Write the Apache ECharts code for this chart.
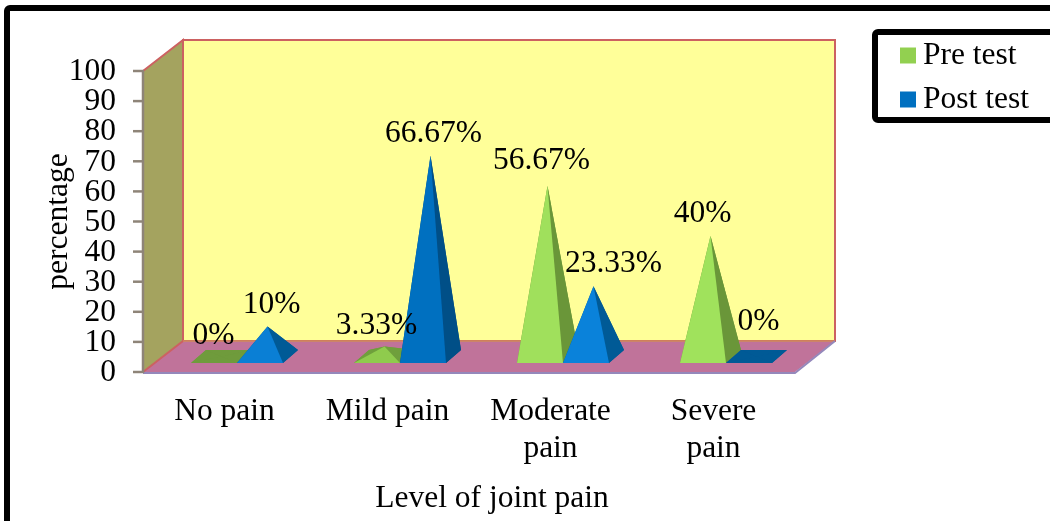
<!DOCTYPE html>
<html>
<head>
<meta charset="utf-8">
<style>html,body{margin:0;padding:0;background:#fff}#c{width:1050px;height:521px}</style>
<script src="https://cdn.jsdelivr.net/npm/echarts@6/dist/echarts.min.js"></script>
</head>
<body>
<div id="c"></div>
<script>
const categories = ['No pain', 'Mild pain', 'Moderate\npain', 'Severe\npain'];
const preTest = [0, 3.33, 56.67, 40];
const postTest = [10, 66.67, 23.33, 0];
const yTickValues = [0, 10, 20, 30, 40, 50, 60, 70, 80, 90, 100];
const seriesNames = ['Pre test', 'Post test'];
const xTitle = 'Level of joint pain';
const yTitle = 'percentage';

// layout and style only
const FONT = '"Liberation Serif","Times New Roman",serif';
const SIZE = 31.5;
const AXIS_GREY = '#8e8478';
const WALL = { dx: 40, dy: -31 };
const BASE = { lift: 9, dx: 15, dy: -13, widthRatio: 46 / 163, shift: 12.5 };
const PRE = { legend: '#92d050', faces: ['#a0e05c', '#8fcb4d', '#a0e05c', '#a0e25c'], side: ['#6f9b3c', '#6f9f3c', '#6a9639', '#6a9639'] };
const POST = { legend: '#0070c0', faces: ['#0a7fd5', '#0070c0', '#0a82da', '#0a82da'], side: ['#005a96', '#004f87', '#005a96', '#005a96'] };
const preNudge = [[-8, -21], [-8, -21], [-6, -25], [-8, -22]];
const postNudge = [[4, -22], [3, -22], [20, -23], [2, -35]];

function pyramid(style, side, nudges) {
  return function (params, api) {
    const i = api.value(0), v = api.value(1);
    const zero = api.coord([i, 0]);
    const top = api.coord([i, v]);
    const w = api.size([1, 0])[0] * BASE.widthRatio;
    const x0 = zero[0] + BASE.shift + side * w;
    const x1 = x0 + w;
    const y0 = zero[1] - BASE.lift;
    const fl = [x0, y0], fr = [x1, y0];
    const bl = [x0 + BASE.dx, y0 + BASE.dy], br = [x1 + BASE.dx, y0 + BASE.dy];
    const apex = [(x0 + x1 + BASE.dx) / 2, top[1] - BASE.lift + BASE.dy / 2];
    const z = side < 0 ? 1 : 2;
    const poly = (pts, fill) => ({ type: 'polygon', shape: { points: pts }, style: { fill: fill }, z2: z });
    const children = [
      poly([fl, fr, br, bl], style.side[i]),
      poly([fl, bl, apex], style.side[i]),
      poly([br, bl, apex], style.side[i]),
      poly([fr, br, apex], style.side[i])
    ];
    if (v > 0) children.push(poly([fl, fr, apex], style.faces[i]));
    children.push({
      type: 'text', z2: 10,
      style: {
        text: v + '%', x: apex[0] + nudges[i][0], y: apex[1] + nudges[i][1],
        font: SIZE + 'px ' + FONT, fill: '#000', align: 'center', verticalAlign: 'middle'
      }
    });
    return { type: 'group', children: children };
  };
}

function walls(params, api) {
  const c = params.coordSys;
  const L = c.x, R = c.x + c.width, T = c.y, B = c.y + c.height;
  const dx = WALL.dx, dy = WALL.dy;
  const red = '#cc6161', violet = '#9488bb';
  return {
    type: 'group',
    children: [
      { type: 'rect', shape: { x: L + dx, y: T + dy, width: c.width, height: c.height }, style: { fill: '#ffff99', stroke: red, lineWidth: 2 } },
      { type: 'polygon', shape: { points: [[L, T], [L + dx, T + dy], [L + dx, B + dy], [L, B]] }, style: { fill: '#a4a35f' } },
      { type: 'polygon', shape: { points: [[L, B], [R, B], [R + dx, B + dy], [L + dx, B + dy]] }, style: { fill: '#c0739a' } },
      { type: 'polyline', shape: { points: [[L, T], [L + dx, T + dy], [L + dx, B + dy], [L, B]] }, style: { fill: 'none', stroke: red, lineWidth: 2 } },
      { type: 'polyline', shape: { points: [[L + dx, B + dy], [R + dx, B + dy]] }, style: { fill: 'none', stroke: '#d08a5a', lineWidth: 1.5 } },
      { type: 'polyline', shape: { points: [[L, B + 1], [R, B + 1], [R + dx, B + dy]] }, style: { fill: 'none', stroke: violet, lineWidth: 2 } },
      { type: 'polyline', shape: { points: [[L, T], [L, B + 1]] }, style: { fill: 'none', stroke: AXIS_GREY, lineWidth: 2.5 } },
      { type: 'rect', shape: { x: 7, y: 8, width: 1200, height: 700, r: 3 }, style: { fill: 'none', stroke: '#000', lineWidth: 6 } }
    ]
  };
}

function yTick(params, api) {
  const v = api.value(0);
  const x = params.coordSys.x;
  const y = api.coord([0, v])[1];
  return {
    type: 'group',
    children: [
      { type: 'polyline', shape: { points: [[x - 10, y], [x + 1, y]] }, style: { fill: 'none', stroke: AXIS_GREY, lineWidth: 2.5 }, z2: 5 },
      { type: 'text', style: { text: String(v), x: x - 27, y: y + 1, font: SIZE + 'px ' + FONT, fill: '#000', align: 'right', verticalAlign: 'middle' } }
    ]
  };
}

const chart = echarts.init(document.getElementById('c'), null, { renderer: 'canvas' });
chart.setOption({
  animation: false,
  textStyle: { fontFamily: FONT },
  grid: { left: 143, top: 71, width: 652, height: 301 },
  legend: {
    orient: 'vertical', left: 875, top: 32,
    data: seriesNames.map(n => ({ name: n, icon: 'rect' })),
    itemWidth: 16, itemHeight: 16, itemGap: 9, selectedMode: false,
    padding: [6, 60, 3, 25],
    borderColor: '#000', borderWidth: 6, borderRadius: 3,
    textStyle: { fontFamily: FONT, fontSize: SIZE, color: '#000', padding: [0, 0, 0, 2], lineHeight: 35 }
  },
  xAxis: {
    type: 'category', data: categories,
    axisLine: { show: false },
    axisTick: { show: false },
    axisLabel: { interval: 0, margin: 21, fontFamily: FONT, fontSize: SIZE, color: '#000', lineHeight: 37 },
    name: xTitle, nameLocation: 'middle', nameGap: 111, nameMoveOverlap: false,
    nameTextStyle: { fontFamily: FONT, fontSize: SIZE, color: '#000', padding: [0, 0, 0, 46] }
  },
  yAxis: {
    type: 'value', min: yTickValues[0], max: yTickValues[yTickValues.length - 1], interval: yTickValues[1] - yTickValues[0],
    axisLine: { show: false },
    axisTick: { show: false },
    splitLine: { show: false },
    axisLabel: { show: false },
    name: yTitle, nameLocation: 'middle', nameGap: 68, nameMoveOverlap: false,
    nameTextStyle: { fontFamily: FONT, fontSize: SIZE, color: '#000' }
  },
  series: [
    { type: 'custom', name: '__walls', z: 1, silent: true, data: [[0, 0]], encode: { x: 0, y: 1 }, renderItem: walls, clip: false },
    { type: 'custom', name: '__yTicks', z: 3, silent: true, data: yTickValues.map(v => [v]), encode: { y: 0 }, renderItem: yTick, clip: false },
    { type: 'custom', name: seriesNames[0], z: 4, itemStyle: { color: PRE.legend }, data: preTest.map((v, i) => [i, v]), encode: { x: 0, y: 1 }, renderItem: pyramid(PRE, -1, preNudge) },
    { type: 'custom', name: seriesNames[1], z: 4, itemStyle: { color: POST.legend }, data: postTest.map((v, i) => [i, v]), encode: { x: 0, y: 1 }, renderItem: pyramid(POST, 0, postNudge) }
  ]
});
</script>
</body>
</html>
